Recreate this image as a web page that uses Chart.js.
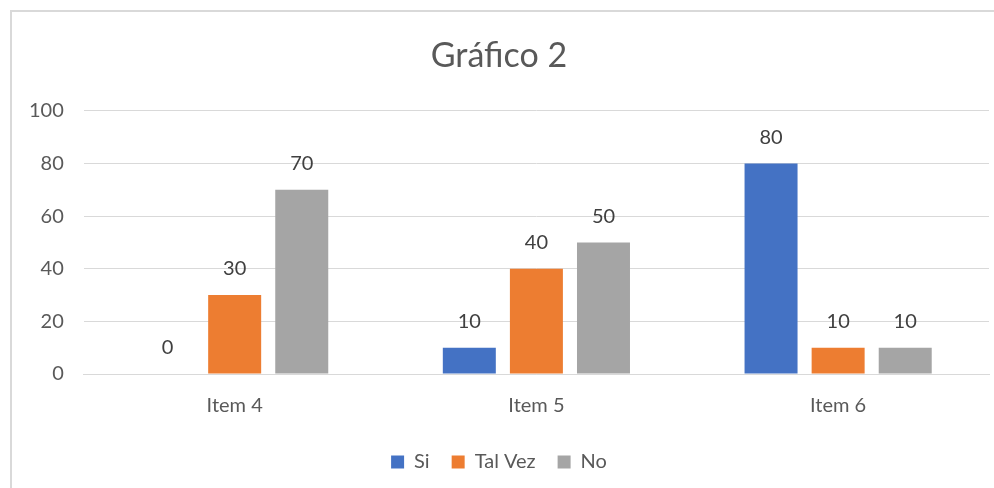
<!DOCTYPE html>
<html>
<head>
<meta charset="utf-8">
<script src="https://cdn.jsdelivr.net/npm/chart.js@4/dist/chart.umd.min.js"></script>
<style>
  body { margin: 0; background: #fff; }
  #frame {
    position: absolute; left: 10px; top: 10px; width: 984px; height: 478px;
    border-left: 2px solid #d9d9d9; border-top: 2px solid #d9d9d9;
  }
  #wrap { position: absolute; left: 0; top: 0; width: 982px; height: 476px; }
</style>
</head>
<body>
<div id="frame"><div id="wrap"><canvas id="chart"></canvas></div></div>
<script>
// Chart data
const categories = ['Item 4', 'Item 5', 'Item 6'];
const si = [0, 10, 80];
const talVez = [30, 40, 10];
const no = [70, 50, 10];
const yTicks = [0, 20, 40, 60, 80, 100];

const FONT = 'Lato, "Open Sans", sans-serif';

// Draw the value above each bar
const barLabels = {
  id: 'barLabels',
  afterDatasetsDraw(chart) {
    const ctx = chart.ctx;
    ctx.save();
    ctx.font = '20px ' + FONT;
    ctx.fillStyle = '#404040';
    ctx.textAlign = 'center';
    ctx.textBaseline = 'middle';
    chart.data.datasets.forEach((ds, i) => {
      chart.getDatasetMeta(i).data.forEach((bar, j) => {
        ctx.fillText(ds.data[j], bar.x, bar.y - 26);
      });
    });
    ctx.restore();
  }
};

const ctx = document.getElementById('chart').getContext('2d');
new Chart(ctx, {
  type: 'bar',
  data: {
    labels: categories,
    datasets: [
      { label: 'Si', data: si, backgroundColor: '#4472c4' },
      { label: 'Tal Vez', data: talVez, backgroundColor: '#ed7d31' },
      { label: 'No', data: no, backgroundColor: '#a5a5a5' },
    ],
  },
  options: {
    responsive: true,
    maintainAspectRatio: false,
    animation: false,
    categoryPercentage: 0.667,
    barPercentage: 0.79,
    layout: { padding: { left: -3, right: 5, top: 0, bottom: 6 } },
    plugins: {
      title: {
        display: true,
        text: 'Gráfico 2',
        color: '#595959',
        font: { family: FONT, size: 34, weight: 'normal' },
        padding: { top: 24, bottom: 34 },
      },
      legend: {
        position: 'bottom',
        labels: {
          color: '#595959',
          font: { family: FONT, size: 20 },
          boxWidth: 13,
          boxHeight: 13,
          padding: 22,
        },
      },
      tooltip: { enabled: false },
    },
    scales: {
      x: {
        grid: { display: false },
        border: { color: '#d9d9d9', width: 1 },
        ticks: {
          color: '#595959',
          font: { family: FONT, size: 20 },
          padding: 12,
        },
      },
      y: {
        min: 0,
        max: 100,
        afterBuildTicks(axis) { axis.ticks = yTicks.map(v => ({ value: v })); },
        grid: { color: '#d9d9d9', drawTicks: false },
        border: { display: false },
        ticks: {
          color: '#595959',
          font: { family: FONT, size: 20 },
          padding: 20,
        },
      },
    },
  },
  plugins: [barLabels],
});
</script>
</body>
</html>
